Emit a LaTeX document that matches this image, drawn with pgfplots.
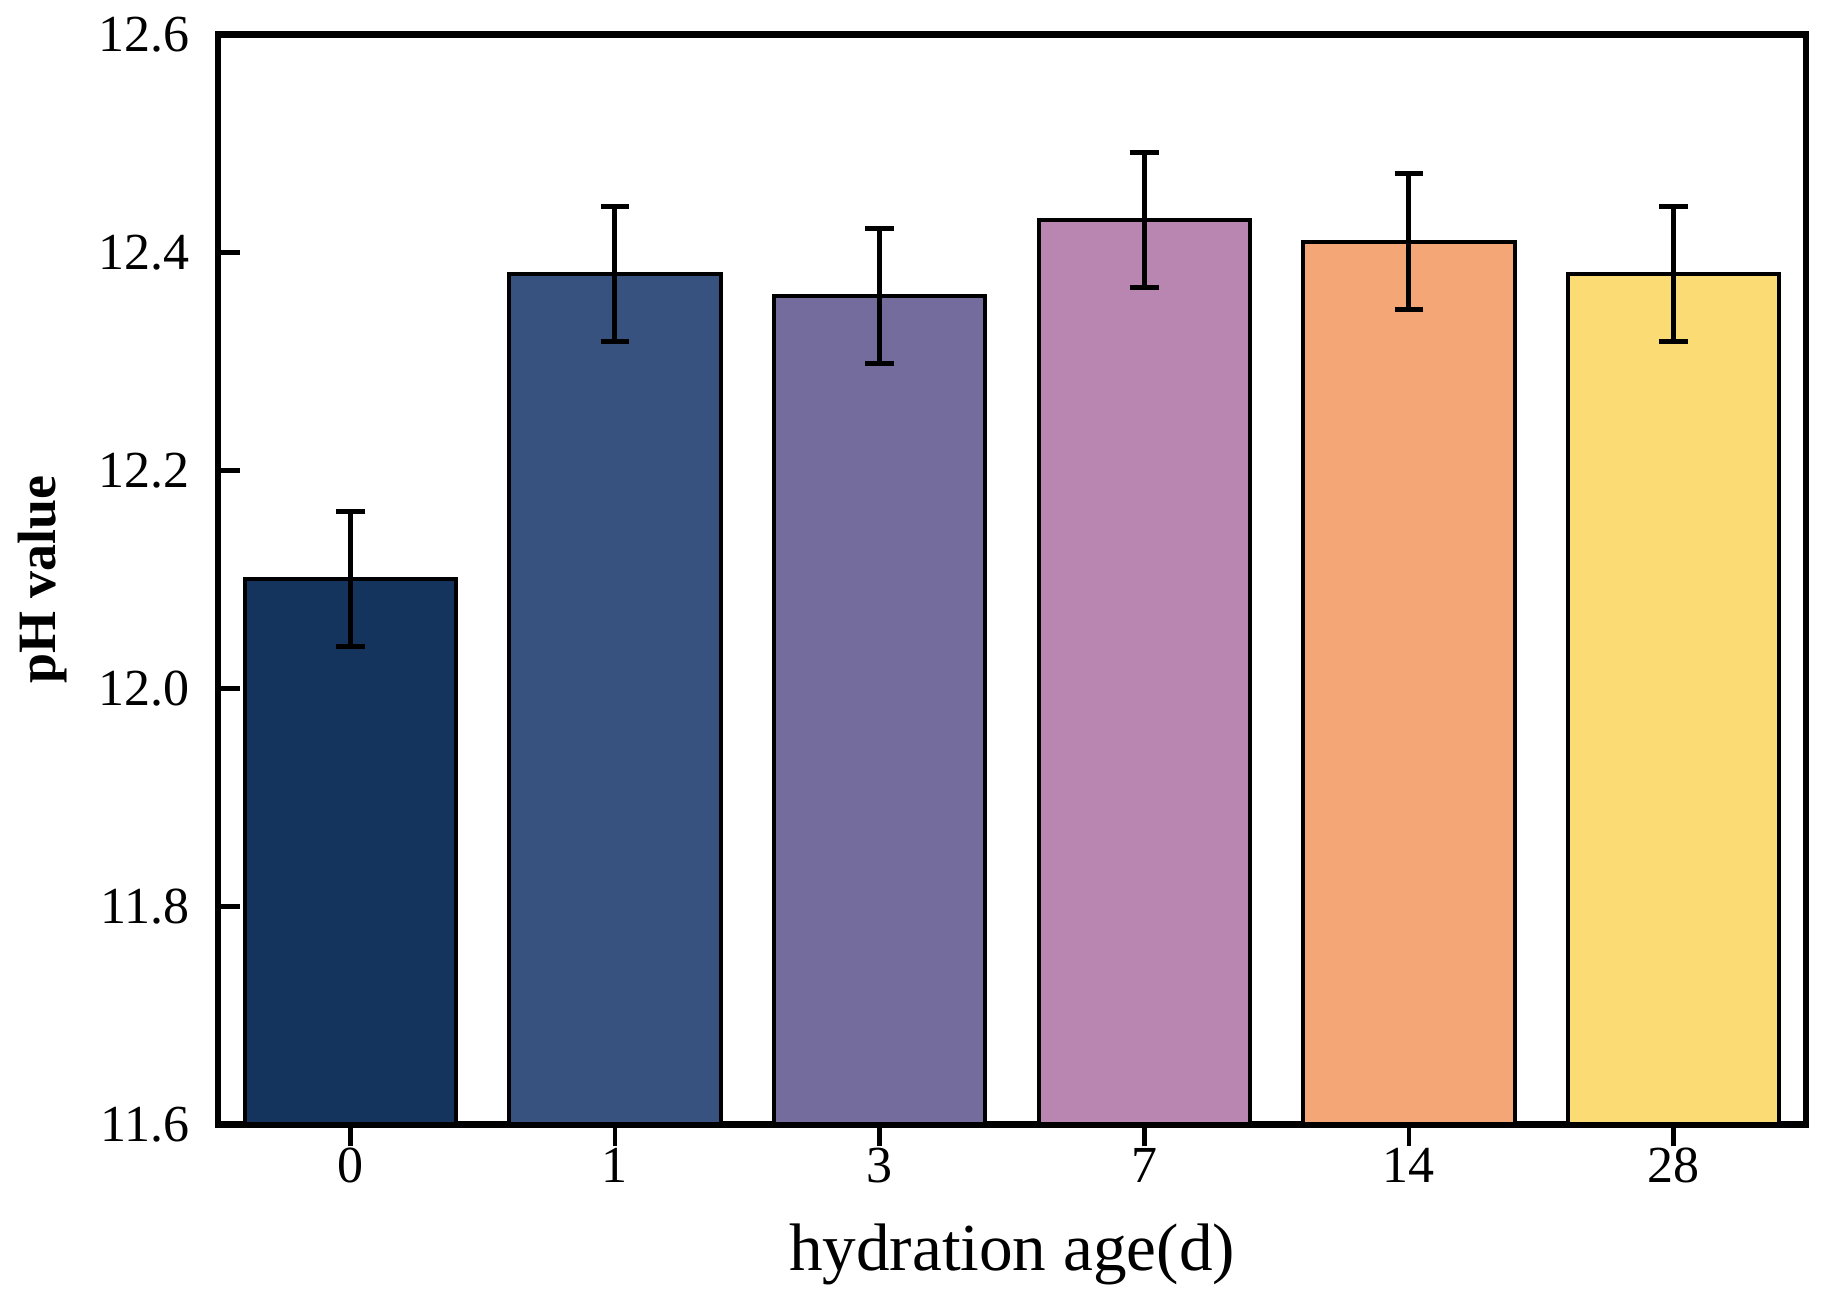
\documentclass[border=0pt]{standalone}
\usepackage{pgfplots}
\pgfplotsset{compat=1.18}
\usepackage{fontspec}
\setmainfont{Liberation Serif}
\definecolor{c0}{HTML}{15345D}
\definecolor{c1}{HTML}{38527F}
\definecolor{c3}{HTML}{736C9D}
\definecolor{c7}{HTML}{B985B1}
\definecolor{c14}{HTML}{F4A677}
\definecolor{c28}{HTML}{FBDB74}
\begin{document}
\begin{tikzpicture}
\useasboundingbox (-54.5pt,-44.1pt) rectangle (401.75pt,281.1pt);
\begin{axis}[
  at={(0,0)}, anchor=south west,
  scale only axis,
  width=397pt, height=272.5pt,
  xmin=-0.5, xmax=5.5,
  ymin=11.6, ymax=12.6,
  xtick={0,1,2,3,4,5},
  xticklabels={0,1,3,7,14,28},
  ytick={11.6,11.8,12.0,12.2,12.4,12.6},
  yticklabel style={/pgf/number format/fixed,/pgf/number format/fixed zerofill,/pgf/number format/precision=1},
  /pgf/number format/assume math mode=true,
  tick pos=left,
  tick align=inside,
  major tick length=5.5pt,
  tick style={line width=1.2pt, black},
  axis line style={line width=1.7pt},
  ticklabel style={font=\fontsize{13}{15}\selectfont},
  xticklabel style={anchor=north, yshift=3.1pt},
  yticklabel style={anchor=east, xshift=-3.6pt},
  xlabel={hydration age(d)},
  ylabel={\bfseries pH value},
  xlabel style={at={(axis description cs:0.5,0)}, anchor=center, yshift=-32.6pt, font=\fontsize{16.8}{19}\selectfont},
  ylabel style={at={(axis description cs:0,0.5)}, anchor=center, yshift=43.75pt, font=\fontsize{13.5}{16}\selectfont},
  ybar, bar width=52.9pt,
  error bars/y dir=both, error bars/y explicit,
  error bars/error bar style={line width=1.25pt, black},
  error bars/error mark options={rotate=90, mark size=3.6pt, line width=1.25pt, black},
  clip=false,
]
\addplot[bar shift=0pt, fill=c0, draw=black, line width=1pt] coordinates {(0,12.10) +- (0,0.062)};
\addplot[bar shift=0pt, fill=c1, draw=black, line width=1pt] coordinates {(1,12.38) +- (0,0.062)};
\addplot[bar shift=0pt, fill=c3, draw=black, line width=1pt] coordinates {(2,12.36) +- (0,0.062)};
\addplot[bar shift=0pt, fill=c7, draw=black, line width=1pt] coordinates {(3,12.43) +- (0,0.062)};
\addplot[bar shift=0pt, fill=c14, draw=black, line width=1pt] coordinates {(4,12.41) +- (0,0.062)};
\addplot[bar shift=0pt, fill=c28, draw=black, line width=1pt] coordinates {(5,12.38) +- (0,0.062)};
\end{axis}
\end{tikzpicture}
\end{document}
